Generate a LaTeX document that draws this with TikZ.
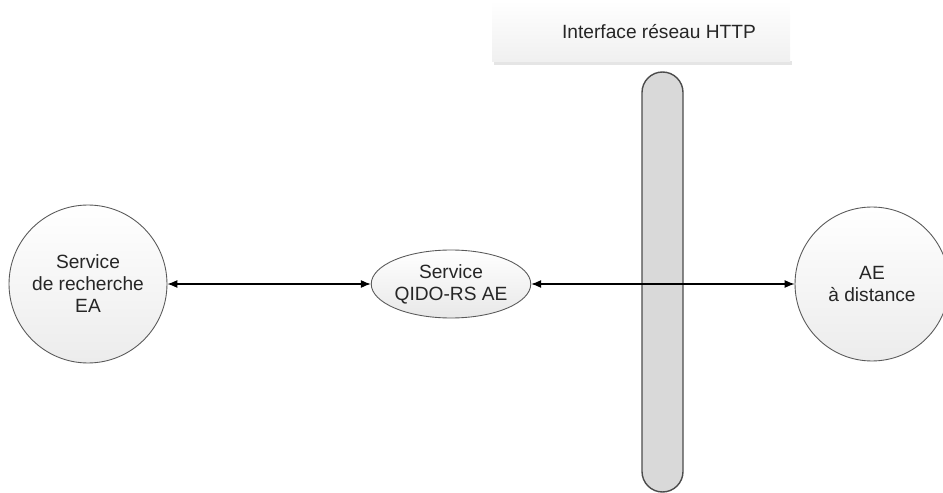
\documentclass[tikz,border=0pt]{standalone}
\usepackage{fontspec}
\setmainfont{Liberation Sans}
\usetikzlibrary{arrows.meta,shapes.geometric}
\begin{document}
\begin{tikzpicture}[x=0.02cm, y=-0.02cm, font=\fontsize{10.9}{12.5}\selectfont]
    \useasboundingbox (0,0) rectangle (943,493);

    % HTTP interface
    \fill[gray!20] (494,61) rectangle (792,65);
    \shade[top color=white, bottom color=gray!12] (492,0) rectangle (790,62);
    \node (http) at (659,32) [text=black!85] {Interface réseau HTTP};
    \draw[gray!60!black, line width=0.8pt, fill=gray!30, rounded corners=0.41cm] (642,72) rectangle (683,492);

    \node (ea) at (88,284) [circle, draw=gray!70!black, line width=0.5pt, top color=white, bottom color=gray!15, minimum size=3.16cm, inner sep=0pt, align=center, text=black!85] {Service\\de recherche\\EA};
    \node (qido) at (451,284) [ellipse, draw=gray!70!black, line width=0.5pt, top color=white, bottom color=gray!18, minimum width=3.02cm, minimum height=1.36cm, inner sep=0pt, align=center, text=black!85] {Service\\QIDO-RS AE};
    \node (ae) at (872,284) [circle, draw=gray!70!black, line width=0.5pt, top color=white, bottom color=gray!15, minimum size=3.08cm, inner sep=0pt, align=center, text=black!85] {AE\\à distance};

    \draw[line width=0.6pt, {Latex[length=0.2cm,width=0.16cm]}-{Latex[length=0.2cm,width=0.16cm]}] (ea) -- (qido);
    \draw[line width=0.6pt, {Latex[length=0.2cm,width=0.16cm]}-{Latex[length=0.2cm,width=0.16cm]}] (qido) -- (ae);
\end{tikzpicture}
\end{document}
